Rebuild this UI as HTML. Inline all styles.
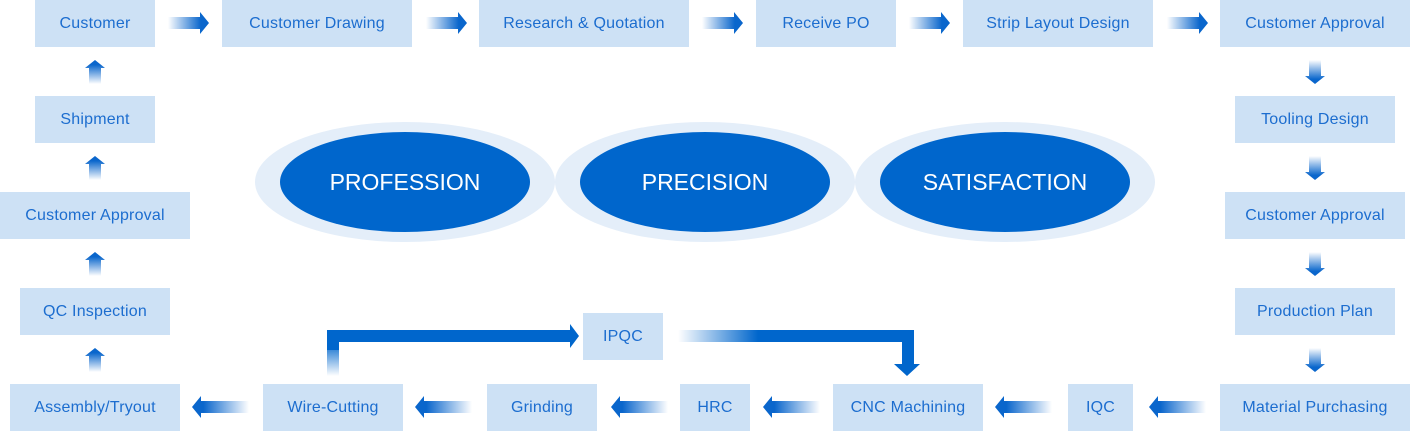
<!DOCTYPE html>
<html><head><meta charset="utf-8"><style>
body{margin:0;width:1410px;height:432px;background:#fff;position:relative;overflow:hidden;font-family:"Liberation Sans",sans-serif}
.b{position:absolute;background:#cde1f5;color:#1c6dcf;font-size:16px;display:flex;align-items:center;justify-content:center;height:47px;letter-spacing:0.2px}
svg{position:absolute;left:0;top:0}
</style></head><body>
<svg width="1410" height="432">
<defs>
<linearGradient id="gr" x1="0" x2="1" y1="0" y2="0"><stop offset="0" stop-color="#0a66cc" stop-opacity="0"/><stop offset="0.8" stop-color="#0a66cc"/></linearGradient>
<linearGradient id="gl" x1="1" x2="0" y1="0" y2="0"><stop offset="0" stop-color="#0a66cc" stop-opacity="0"/><stop offset="0.8" stop-color="#0a66cc"/></linearGradient>
<linearGradient id="gd" x1="0" x2="0" y1="0" y2="1"><stop offset="0" stop-color="#0a66cc" stop-opacity="0"/><stop offset="0.8" stop-color="#0a66cc"/></linearGradient>
<linearGradient id="gu" x1="0" x2="0" y1="1" y2="0"><stop offset="0" stop-color="#0a66cc" stop-opacity="0"/><stop offset="0.8" stop-color="#0a66cc"/></linearGradient>
<linearGradient id="gv" x1="0" x2="0" y1="1" y2="0"><stop offset="0" stop-color="#0066cc" stop-opacity="0"/><stop offset="1" stop-color="#0066cc"/></linearGradient>
<linearGradient id="gh" x1="0" x2="1" y1="0" y2="0"><stop offset="0" stop-color="#0066cc" stop-opacity="0"/><stop offset="1" stop-color="#0066cc"/></linearGradient>
<g id="ar"><path d="M0,-6 H32 V-11 L41,0 L32,11 V6 H0 Z" fill="url(#gr)"/></g>
<g id="al"><path d="M0,-6 H-48 V-11 L-57,0 L-48,11 V6 H0 Z" fill="url(#gl)"/></g>
<g id="ad"><path d="M-6,0 V16 H-10 L0,24 L10,16 H6 V0 Z" fill="url(#gd)"/></g>
<g id="au"><path d="M-6,0 V-16 H-10 L0,-24 L10,-16 H6 V0 Z" fill="url(#gu)"/></g>
</defs>
<use href="#ar" x="168" y="23"/><use href="#ar" x="426" y="23"/><use href="#ar" x="702" y="23"/><use href="#ar" x="909" y="23"/><use href="#ar" x="1167" y="23"/>
<use href="#ad" x="1315" y="60"/><use href="#ad" x="1315" y="156"/><use href="#ad" x="1315" y="252"/><use href="#ad" x="1315" y="348"/>
<use href="#au" x="95" y="84"/><use href="#au" x="95" y="180"/><use href="#au" x="95" y="276"/><use href="#au" x="95" y="372"/>
<use href="#al" x="249" y="407"/><use href="#al" x="472" y="407"/><use href="#al" x="668" y="407"/><use href="#al" x="820" y="407"/><use href="#al" x="1052" y="407"/><use href="#al" x="1206" y="407"/>
<rect x="327" y="342" width="12" height="34" fill="url(#gv)"/>
<path d="M327,330 H570 V324 L579,336 L570,348 V342 H339 V350 H327 Z" fill="#0066cc"/>
<rect x="678" y="330" width="80" height="12" fill="url(#gh)"/>
<path d="M758,330 H914 V364 H920 L907,376 L894,364 H902 V342 H758 Z" fill="#0066cc"/>
<ellipse cx="405" cy="182" rx="150" ry="60" fill="#e4eef9"/>
<ellipse cx="705" cy="182" rx="150" ry="60" fill="#e4eef9"/>
<ellipse cx="1005" cy="182" rx="150" ry="60" fill="#e4eef9"/>
<ellipse cx="405" cy="182" rx="125" ry="50" fill="#0066cc"/>
<ellipse cx="705" cy="182" rx="125" ry="50" fill="#0066cc"/>
<ellipse cx="1005" cy="182" rx="125" ry="50" fill="#0066cc"/>
<g font-family="Liberation Sans, sans-serif" font-size="23" fill="#fff" text-anchor="middle">
<text x="405" y="190">PROFESSION</text><text x="705" y="190">PRECISION</text><text x="1005" y="190">SATISFACTION</text></g>
</svg>
<div class="b" style="left:35px;top:0;width:120px">Customer</div>
<div class="b" style="left:222px;top:0;width:190px">Customer Drawing</div>
<div class="b" style="left:479px;top:0;width:210px">Research &amp; Quotation</div>
<div class="b" style="left:756px;top:0;width:140px">Receive PO</div>
<div class="b" style="left:963px;top:0;width:190px">Strip Layout Design</div>
<div class="b" style="left:1220px;top:0;width:190px">Customer Approval</div>
<div class="b" style="left:1235px;top:96px;width:160px">Tooling Design</div>
<div class="b" style="left:1225px;top:192px;width:180px">Customer Approval</div>
<div class="b" style="left:1235px;top:288px;width:160px">Production Plan</div>
<div class="b" style="left:1220px;top:384px;width:190px">Material Purchasing</div>
<div class="b" style="left:1068px;top:384px;width:65px">IQC</div>
<div class="b" style="left:833px;top:384px;width:150px">CNC Machining</div>
<div class="b" style="left:680px;top:384px;width:70px">HRC</div>
<div class="b" style="left:487px;top:384px;width:110px">Grinding</div>
<div class="b" style="left:263px;top:384px;width:140px">Wire-Cutting</div>
<div class="b" style="left:10px;top:384px;width:170px">Assembly/Tryout</div>
<div class="b" style="left:583px;top:313px;width:80px">IPQC</div>
<div class="b" style="left:20px;top:288px;width:150px">QC Inspection</div>
<div class="b" style="left:0;top:192px;width:190px">Customer Approval</div>
<div class="b" style="left:35px;top:96px;width:120px">Shipment</div>
</body></html>
